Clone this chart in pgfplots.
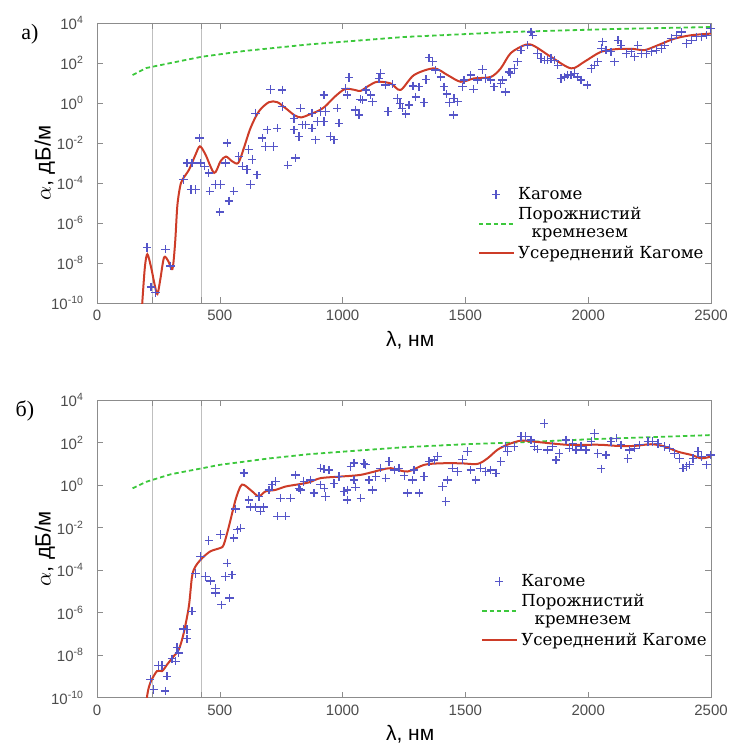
\documentclass[border=0pt]{standalone}
\usepackage{pgfplots}
\pgfplotsset{compat=1.18}
\usepackage{fontspec}
\setmainfont{Liberation Sans}
\newfontfamily\legfont{DejaVu Serif}
\newfontfamily\serfont{Liberation Serif}
\definecolor{kblue}{RGB}{85,85,200}
\definecolor{kred}{RGB}{205,60,40}
\definecolor{kgreen}{RGB}{60,200,60}
\begin{document}
\begin{tikzpicture}
\useasboundingbox (0,0) rectangle (365.5pt,-374.5pt);
\node[font=\serfont\fontsize{11}{12}\selectfont] at (15pt,-17pt) {а)};
\node[font=\serfont\fontsize{11}{12}\selectfont] at (12.5pt,-205.5pt) {б)};
% ---------------- panel a ----------------
\begin{axis}[at={(48.5pt,-151.5pt)}, anchor=south west, height=140pt,
    scale only axis, width=307pt,
    xmin=0, xmax=2500, ymode=log, ymin=1e-10, ymax=1e4,
    xtick={0,500,1000,1500,2000,2500},
    xticklabels={0,500,1000,1500,2000,2500},
    ytick={1e-10,1e-8,1e-6,1e-4,1e-2,1,1e2,1e4},
    yticklabels={10\textsuperscript{-10},10\textsuperscript{-8},10\textsuperscript{-6},10\textsuperscript{-4},10\textsuperscript{-2},10\textsuperscript{0},10\textsuperscript{2},10\textsuperscript{4}},
    yminorticks=false,
    tick align=inside, tick pos=both, major tick length=3pt,
    axis line style={black!45}, tick style={black!45},
    ticklabel style={font=\fontsize{7.5}{8}\selectfont, text=black!70},
    yticklabel style={xshift=-3pt},
    extra x ticks={225,425}, extra x tick labels={},
    extra x tick style={grid=major, major grid style={black!25, line width=0.6pt}},
    xlabel={λ, нм},
    xlabel style={font=\fontsize{10.5}{12}\selectfont, at={(axis description cs:0.51,0)}, anchor=center, yshift=-18.5pt},
    ylabel={$\alpha$, дБ/м},
    ylabel style={font=\fontsize{11}{12}\selectfont, at={(axis description cs:-0.085,0.5)}, anchor=center},
    legend style={draw=none, fill=none, font=\legfont\fontsize{8.3}{8.3}\selectfont, row sep=-1.5pt, inner sep=0pt, at={(axis description cs:0.995,0.43)}, anchor=north east},
    legend cell align=left]
\addplot[only marks, mark=+, mark size=2.1pt, kblue, line width=0.65pt] table {
x y
204 5.9e-8
220 6.3e-10
238 3.4e-10
279 4.9e-8
299 7.2e-9
353 1.48e-4
367 1e-3
387 1e-3
383 4.8e-5
401 4.8e-5
417 1.78e-2
421 1e-3
437 6.9e-4
455 3.2e-4
459 3.9e-5
482 8.3e-5
503 8.3e-5
500 3.5e-6
530 1e-2
523 1e-3
537 1.26e-5
557 3.9e-5
577 2.1e-3
591 6.9e-4
611 4.7e-4
618 4.7e-3
632 1.48e-3
625 8.3e-5
652 2.6e-4
645 0.31
673 1.78e-2
686 6.8e-3
693 4.6e-2
707 4.8
720 6.8e-3
734 5.5e-2
754 4.5
754 0.66
777 7.8e-4
808 1.78e-3
802 4.6e-2
802 0.17
822 2.1e-2
829 0.55
836 8.1e-2
849 8.1e-2
876 0.31
876 5.5e-2
890 1.45e-2
897 0.12
910 0.37
924 2.5
924 0.12
931 0.37
951 2.1e-2
965 1.45e-2
978 0.55
985 9.8e-2
1012 5.4
1019 2.5
1026 19
1053 0.45
1067 0.25
1073 1.55
1081 1.41
1095 4.5
1115 2.5
1122 1.15
1148 17
1155 30
1175 7.9
1185 0.37
1202 8.7
1223 1.7
1234 0.95
1243 0.55
1257 0.28
1270 0.79
1287 7.2
1298 2.0
1311 6.5
1332 1.07
1339 15
1352 182
1366 115
1379 44
1400 20
1413 6.5
1424 2.8
1436 1.07
1451 0.25
1454 1.7
1467 1.15
1488 6.5
1494 14
1522 25
1533 4.9
1549 14
1569 48
1583 17
1603 14
1617 6.5
1644 9.5
1651 14
1664 3.6
1678 36
1685 30
1699 54
1712 115
1726 437
1753 776
1767 3550
1774 2450
1794 302
1808 170
1821 138
1835 138
1848 170
1862 138
1876 78
1889 17
1903 20
1917 25
1930 25
1944 30
1957 20
1971 14
1996 7.9
2012 54
2025 78
2039 115
2053 525
2059 1150
2073 437
2093 363
2107 115
2121 1380
2134 776
2155 302
2175 363
2189 204
2202 776
2216 302
2236 302
2257 363
2277 437
2298 525
2311 776
2339 1660
2359 2450
2380 3550
2400 933
2420 1380
2441 2040
2461 2040
2481 2450
2498 5250
};
\addlegendentry{Кагоме}
\addplot[kgreen, line width=0.9pt, dash pattern=on 2.2pt off 1.5pt] table {
x y
145 25
200 56
300 100
425 204
600 400
863 850
1250 2000
1680 3550
2100 5000
2500 6300
};
\addlegendentry{\shortstack{Порожнистий\\кремнезем}}
\addplot[kred, line width=1pt, smooth, tension=0.5] table {
x y
180 1e-11
184 8.9e-11
195 6.3e-9
205 2.75e-8
220 6.3e-9
235 7.9e-10
246 2.8e-10
258 1.58e-9
273 1.9e-8
290 1.26e-8
307 5.0e-9
318 1e-7
327 7.1e-6
338 6.3e-5
348 1.48e-4
375 4.7e-4
401 2.6e-3
419 6.8e-3
442 2.6e-3
477 3.2e-4
503 1.23e-3
525 2.1e-3
550 1.23e-3
575 1e-3
598 5.6e-3
625 5.6e-2
659 0.38
700 1.1
734 1.1
768 0.55
805 0.24
832 0.19
863 0.26
900 0.4
928 0.66
969 2.1
1010 5.0
1050 4.5
1073 4.0
1105 7.1
1141 11.5
1196 9.5
1236 4.5
1291 25
1372 54
1427 25
1481 11.5
1535 17
1603 20
1644 54
1685 316
1746 830
1780 710
1848 204
1930 54
1984 115
2052 363
2120 500
2188 500
2229 437
2284 776
2352 1660
2420 2450
2500 2950
};
\addlegendentry{Усереднений Кагоме}
\end{axis}
% ---------------- panel b ----------------
\begin{axis}[at={(48.5pt,-348.75pt)}, anchor=south west, height=148.75pt,
    scale only axis, width=307pt,
    xmin=0, xmax=2500, ymode=log, ymin=1e-10, ymax=1e4,
    xtick={0,500,1000,1500,2000,2500},
    xticklabels={0,500,1000,1500,2000,2500},
    ytick={1e-10,1e-8,1e-6,1e-4,1e-2,1,1e2,1e4},
    yticklabels={10\textsuperscript{-10},10\textsuperscript{-8},10\textsuperscript{-6},10\textsuperscript{-4},10\textsuperscript{-2},10\textsuperscript{0},10\textsuperscript{2},10\textsuperscript{4}},
    yminorticks=false,
    tick align=inside, tick pos=both, major tick length=3pt,
    axis line style={black!45}, tick style={black!45},
    ticklabel style={font=\fontsize{7.5}{8}\selectfont, text=black!70},
    yticklabel style={xshift=-3pt},
    extra x ticks={225,425}, extra x tick labels={},
    extra x tick style={grid=major, major grid style={black!25, line width=0.6pt}},
    xlabel={λ, нм},
    xlabel style={font=\fontsize{10.5}{12}\selectfont, at={(axis description cs:0.51,0)}, anchor=center, yshift=-18.5pt},
    ylabel={$\alpha$, дБ/м},
    ylabel style={font=\fontsize{11}{12}\selectfont, at={(axis description cs:-0.085,0.5)}, anchor=center},
    legend style={draw=none, fill=none, font=\legfont\fontsize{8.3}{8.3}\selectfont, row sep=-1.5pt, inner sep=0pt, at={(axis description cs:1.0,0.43)}, anchor=north east},
    legend cell align=left]
\addplot[only marks, mark=+, mark size=2.1pt, kblue, line width=0.65pt] table {
x y
217 7.1e-10
231 2.4e-10
278 2.0e-10
251 3.2e-9
265 3.2e-9
285 1e-9
305 6.6e-9
319 5.1e-9
326 2.3e-8
333 1.26e-8
353 1.7e-7
367 1.58e-7
367 5.8e-8
387 1.15e-6
401 6.8e-5
421 4.4e-4
442 5.0e-5
455 2.45e-3
462 3.0e-5
482 1.4e-5
482 8.3e-6
503 4.6e-3
507 2.3e-6
523 5.0e-5
530 2.1e-4
539 4.8e-6
550 6.0e-5
557 3.2e-3
564 7.4e-2
571 7.8e-3
584 9.3e-3
598 3.7
618 0.2
625 9.1e-2
645 9.1e-2
659 0.29
666 5.8e-2
679 9.1e-2
700 0.59
713 1.02
727 1.45
734 3.4e-2
747 0.24
768 3.4e-2
788 0.24
808 3.0
822 0.71
829 0.59
842 1.45
870 1.74
883 0.42
910 1.02
911 6.2
924 5.5
925 0.71
931 0.29
945 5.1
965 1.2
985 2.5
1006 0.49
1019 0.59
1019 0.2
1033 7.4
1046 10.7
1047 1.74
1053 0.79
1074 0.24
1087 10.5
1094 8.9
1108 1.74
1121 0.59
1135 2.5
1155 6.2
1176 2.1
1189 12.6
1210 5.1
1230 6.2
1251 2.7
1264 0.42
1285 1.74
1291 5.1
1312 0.42
1332 2.5
1352 12.6
1373 15
1386 22
1407 0.85
1420 0.17
1427 1.74
1447 6.2
1468 4.3
1488 16
1508 37
1522 5.1
1542 1.74
1562 6.2
1583 4.3
1603 5.1
1624 3.6
1644 12.6
1664 65
1671 37
1699 65
1726 190
1746 190
1767 132
1780 65
1794 48
1821 794
1835 45
1855 65
1869 15
1882 31
1910 132
1923 54
1937 91
1950 45
1971 65
1991 45
2012 110
2025 269
2039 31
2053 5.8
2073 26
2093 110
2114 158
2134 78
2161 18
2168 45
2189 54
2209 78
2243 110
2263 110
2284 91
2311 65
2331 54
2352 31
2372 18
2386 6.2
2399 7.4
2413 8.9
2427 18
2447 37
2461 22
2481 8.9
2498 26
};
\addlegendentry{Кагоме}
\addplot[kgreen, line width=0.9pt, dash pattern=on 2.2pt off 1.5pt] table {
x y
145 0.7
200 1.41
300 3.2
430 6.2
500 8.9
700 17.8
860 28
1000 37
1250 60
1500 83
1700 100
2000 141
2500 224
};
\addlegendentry{\shortstack{Порожнистий\\кремнезем}}
\addplot[kred, line width=1pt, smooth, tension=0.5] table {
x y
198 1e-11
204 1.15e-10
217 4.9e-10
244 1.74e-9
265 1.74e-9
285 3.5e-9
312 8.7e-9
333 1.78e-8
353 1.07e-7
374 1.95e-6
387 5.0e-5
401 1.48e-4
428 3.6e-4
462 7.6e-4
503 1.1e-3
516 1.55e-3
537 1.12e-2
564 0.2
584 0.85
598 1.02
632 0.5
659 0.29
686 0.5
727 0.59
768 0.85
808 1.02
862 1.32
910 2.1
992 2.5
1073 3.0
1155 5.1
1196 6.2
1264 4.3
1332 8.9
1400 10.5
1481 10.5
1549 9.8
1590 18
1630 45
1671 79
1726 123
1780 110
1848 91
1916 78
1984 78
2052 78
2120 69
2188 69
2256 83
2311 65
2365 37
2420 26
2461 18
2500 22
};
\addlegendentry{Усереднений Кагоме}
\end{axis}
\end{tikzpicture}
\end{document}
